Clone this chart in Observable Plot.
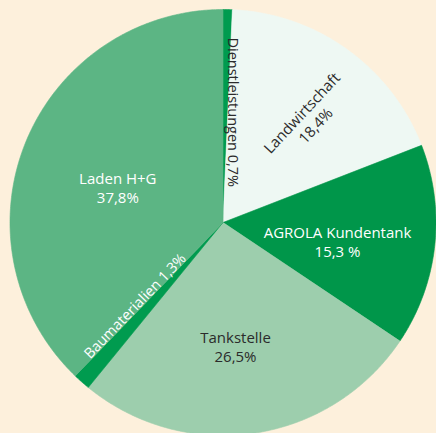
<!DOCTYPE html>
<html>
<head>
<meta charset="utf-8">
<script src="https://cdn.jsdelivr.net/npm/d3@7"></script>
<script src="https://cdn.jsdelivr.net/npm/@observablehq/plot@0.6"></script>
<style>
  html, body { margin: 0; padding: 0; background: #fdf0dc; overflow: hidden; }
  #chart svg { display: block; }
</style>
</head>
<body>
<div id="chart"></div>
<script>
// ---- data ----
const categories = ["Dienstleistungen", "Landwirtschaft", "AGROLA Kundentank", "Tankstelle", "Baumaterialien", "Laden H+G"];
const shares = [0.7, 18.4, 15.3, 26.5, 1.3, 37.8];
const labelTexts = ["Dienstleistungen 0,7%", "Landwirtschaft\n18,4%", "AGROLA Kundentank\n15,3 %", "Tankstelle\n26,5%", "Baumaterialien 1,3%", "Laden H+G\n37,8%"];
const sliceColors = ["#009b4f", "#eef8f3", "#00964a", "#9dcead", "#009b4f", "#5cb584"];
const textColors = ["#2b2b2b", "#2b2b2b", "#ffffff", "#2b2b2b", "#ffffff", "#ffffff"];

// ---- layout (label nudges, not data) ----
const labelAngleNudge = [4.3, 3.8, 3.1, 2.7, 5.3, -3.7];
const labelRadius = [0.52, 0.63, 0.545, 0.585, 0.57, 0.52];
const labelRotate = [90, -47, 0, 0, -46, 0];
const labelSize = [14.5, 15, 15, 15, 14.5, 15];

const W = 436, H = 433, R = 213, CX = 222.5, CY = 222;
const total = d3.sum(shares);

// slice polygons from cumulative shares (angle from top, clockwise)
const slicePts = [];
const labelData = [];
let acc = 0;
categories.forEach((cat, i) => {
  const a0 = acc / total * 360;
  acc += shares[i];
  const a1 = acc / total * 360;
  slicePts.push({cat, x: 0, y: 0});
  const n = Math.max(2, Math.ceil((a1 - a0) / 0.5));
  for (let k = 0; k <= n; k++) {
    const a = (a0 + (a1 - a0) * k / n) * Math.PI / 180;
    slicePts.push({cat, x: Math.sin(a), y: Math.cos(a)});
  }
  slicePts.push({cat, x: 0, y: 0});
  const am = ((a0 + a1) / 2 + labelAngleNudge[i]) * Math.PI / 180;
  labelData.push({
    cat, text: labelTexts[i], color: textColors[i], rotate: labelRotate[i], size: labelSize[i],
    x: labelRadius[i] * Math.sin(am), y: labelRadius[i] * Math.cos(am)
  });
});

const chart = Plot.plot({
  width: W, height: H, margin: 0,
  x: {axis: null, domain: [-CX / R, (W - CX) / R]},
  y: {axis: null, domain: [-(H - CY) / R, CY / R]},
  color: {domain: categories, range: sliceColors},
  style: {background: "transparent", fontFamily: "'Open Sans', sans-serif", overflow: "visible"},
  marks: [
    Plot.line(slicePts, {x: "x", y: "y", z: "cat", fill: "cat", stroke: "cat", strokeWidth: 0.6, curve: "linear"}),
    Plot.text(labelData.filter(d => d.color === "#ffffff"), {
      x: "x", y: "y", text: "text", rotate: "rotate", fill: "#ffffff", fontSize: "size",
      lineHeight: 1.25, lineAnchor: "middle", textAnchor: "middle"
    }),
    Plot.text(labelData.filter(d => d.color !== "#ffffff"), {
      x: "x", y: "y", text: "text", rotate: "rotate", fill: "#2b2b2b", fontSize: "size",
      lineHeight: 1.25, lineAnchor: "middle", textAnchor: "middle"
    })
  ]
});
document.getElementById("chart").appendChild(chart);
</script>
</body>
</html>
